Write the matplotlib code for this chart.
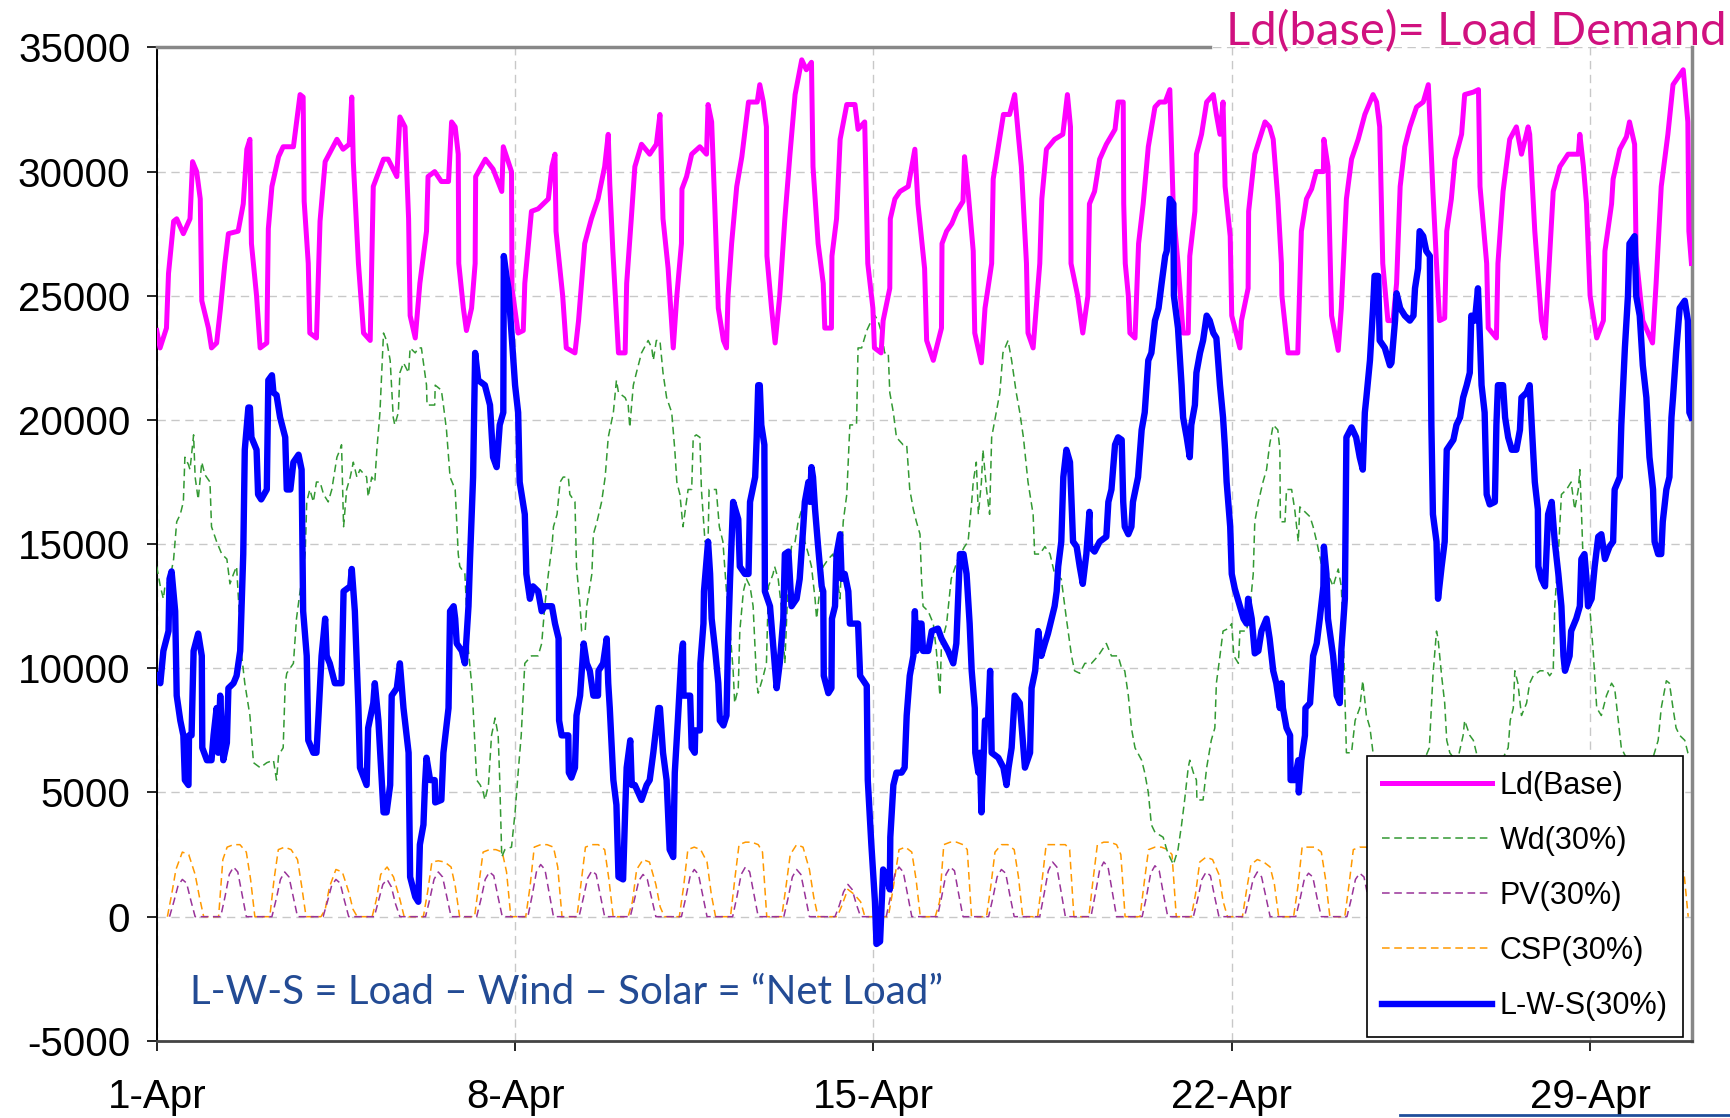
import numpy as np
import matplotlib
matplotlib.use("Agg")
import matplotlib.pyplot as plt
from matplotlib.lines import Line2D

# x = days since 1-Apr 00:00, y = MW
TICK_DAYS = [0, 7, 14, 21, 28]
TICK_LABELS = ["1-Apr", "8-Apr", "15-Apr", "22-Apr", "29-Apr"]
Y_TICKS = [-5000, 0, 5000, 10000, 15000, 20000, 25000, 30000, 35000]

LOAD_PTS = [
    (0.00, 23600), (0.065, 22900), (0.19, 23700), (0.23, 25900), (0.33, 28000), (0.39, 28100),
    (0.52, 27500), (0.65, 28100), (0.70, 30400), (0.78, 30000), (0.85, 28900), (0.88, 24800),
    (1.01, 23700), (1.07, 22900), (1.17, 23100), (1.24, 24400), (1.33, 26300), (1.40, 27500),
    (1.59, 27600), (1.69, 28700), (1.76, 30900), (1.82, 31300), (1.85, 27100), (1.95, 25000),
    (2.02, 22900), (2.15, 23100), (2.18, 27700), (2.25, 29400), (2.38, 30600), (2.47, 31000),
    (2.67, 31000), (2.80, 33100), (2.86, 33000), (2.88, 28800), (2.96, 26300), (2.99, 23500),
    (3.12, 23300), (3.19, 28000), (3.29, 30400), (3.52, 31300), (3.64, 30900), (3.76, 31100),
    (3.81, 33000), (3.84, 30400), (3.94, 26300), (4.04, 23500), (4.17, 23200), (4.23, 29400),
    (4.43, 30500), (4.52, 30500), (4.69, 29800), (4.75, 32200), (4.85, 31800), (4.92, 28100),
    (4.95, 24200), (5.05, 23300), (5.14, 25500), (5.27, 27600), (5.30, 29800), (5.43, 30000),
    (5.56, 29600), (5.70, 29600), (5.76, 32000), (5.83, 31800), (5.89, 30700), (5.90, 26300),
    (5.99, 24500), (6.05, 23600), (6.15, 24500), (6.22, 26300), (6.23, 29800), (6.42, 30500),
    (6.57, 30100), (6.74, 29200), (6.77, 31000), (6.93, 30000), (6.94, 25300), (7.06, 23500),
    (7.16, 23600), (7.19, 25500), (7.32, 28400), (7.45, 28500), (7.65, 28900), (7.72, 30200),
    (7.78, 30700), (7.80, 27600), (7.93, 25000), (8.00, 22900), (8.17, 22700), (8.24, 24000),
    (8.36, 27100), (8.49, 28100), (8.62, 28900), (8.75, 30200), (8.82, 31500), (8.85, 29500),
    (8.91, 26800), (9.02, 22700), (9.15, 22700), (9.18, 25500), (9.27, 28100), (9.34, 30200),
    (9.47, 31100), (9.63, 30700), (9.76, 31100), (9.83, 32300), (9.89, 28100), (9.99, 26100),
    (10.09, 22900), (10.16, 25000), (10.25, 27100), (10.26, 29300), (10.35, 29800), (10.45, 30700),
    (10.61, 31000), (10.74, 30700), (10.77, 32700), (10.84, 32000), (10.90, 28700), (10.97, 24500),
    (11.07, 23200), (11.13, 22900), (11.16, 25000), (11.23, 27100), (11.33, 29400), (11.43, 30600),
    (11.56, 32800), (11.73, 32800), (11.78, 33500), (11.85, 32800), (11.91, 31800), (11.92, 26600),
    (12.01, 24500), (12.08, 23100), (12.17, 25000), (12.27, 28100), (12.37, 30700), (12.47, 33100),
    (12.60, 34500), (12.69, 34100), (12.79, 34400), (12.82, 30200), (12.92, 27100), (13.02, 25500),
    (13.05, 23700), (13.18, 23700), (13.19, 26600), (13.28, 28100), (13.35, 31300), (13.48, 32700),
    (13.64, 32700), (13.70, 31700), (13.83, 32000), (13.89, 26300), (13.99, 24500), (14.02, 22900),
    (14.15, 22700), (14.19, 24000), (14.32, 25300), (14.33, 28100), (14.42, 28900), (14.52, 29200),
    (14.68, 29400), (14.81, 30900), (14.87, 28700), (15.00, 26100), (15.04, 23200), (15.17, 22400),
    (15.33, 23700), (15.34, 27100), (15.43, 27600), (15.53, 27900), (15.63, 28400), (15.75, 28800),
    (15.78, 30600), (15.85, 29200), (15.95, 26800), (15.98, 23500), (16.11, 22300), (16.18, 24500),
    (16.31, 26300), (16.34, 29700), (16.44, 31000), (16.54, 32300), (16.66, 32300), (16.76, 33100),
    (16.83, 31500), (16.89, 30200), (16.99, 26300), (17.02, 23500), (17.12, 22900), (17.18, 24500),
    (17.25, 26300), (17.29, 28900), (17.38, 30900), (17.54, 31300), (17.70, 31500), (17.79, 33100),
    (17.85, 31800), (17.86, 26300), (17.99, 25000), (18.09, 23500), (18.19, 25000), (18.22, 28700),
    (18.32, 29200), (18.42, 30500), (18.55, 31100), (18.72, 31700), (18.78, 32800), (18.88, 32800),
    (18.89, 28700), (18.92, 26300), (18.98, 25000), (19.01, 23500), (19.11, 23300), (19.18, 27100),
    (19.27, 28700), (19.37, 31000), (19.50, 32600), (19.59, 32800), (19.70, 32800), (19.79, 33300),
    (19.86, 28400), (19.95, 26300), (20.05, 23500), (20.15, 23500), (20.18, 26600), (20.28, 28400),
    (20.31, 30700), (20.41, 31500), (20.51, 32800), (20.64, 33100), (20.70, 32300), (20.77, 31500),
    (20.83, 32800), (20.87, 29400), (20.97, 27400), (21.00, 24200), (21.16, 22900), (21.19, 24000),
    (21.32, 25300), (21.33, 28400), (21.45, 30700), (21.65, 32000), (21.74, 31800), (21.81, 31300),
    (21.90, 28900), (21.97, 26300), (21.98, 25000), (22.10, 22700), (22.29, 22700), (22.33, 25500),
    (22.36, 27600), (22.46, 28900), (22.56, 29300), (22.65, 30000), (22.79, 30000), (22.80, 31300),
    (22.88, 30200), (22.92, 26800), (22.95, 24200), (23.08, 22800), (23.14, 24500), (23.21, 27600),
    (23.24, 28900), (23.34, 30500), (23.47, 31300), (23.60, 32300), (23.76, 33100), (23.83, 32800),
    (23.89, 31800), (23.95, 26300), (24.05, 24000), (24.15, 24000), (24.22, 25500), (24.29, 29400),
    (24.38, 31000), (24.48, 31800), (24.61, 32600), (24.74, 32800), (24.84, 33500), (24.93, 29200),
    (25.00, 26300), (25.06, 24000), (25.16, 24100), (25.20, 27600), (25.29, 28900), (25.36, 30500),
    (25.49, 31500), (25.55, 33100), (25.72, 33200), (25.82, 33300), (25.85, 29400), (25.98, 26300),
    (26.01, 23700), (26.17, 23300), (26.20, 26300), (26.30, 29200), (26.43, 31300), (26.56, 31800),
    (26.66, 30700), (26.79, 31800), (26.82, 31500), (26.92, 27600), (27.05, 24000), (27.12, 23300),
    (27.18, 25500), (27.28, 29200), (27.41, 30200), (27.57, 30700), (27.77, 30700), (27.80, 31500),
    (27.87, 30200), (27.93, 28700), (28.00, 25000), (28.13, 23300), (28.26, 24000), (28.29, 26800),
    (28.42, 28700), (28.45, 29700), (28.58, 30900), (28.71, 31400), (28.77, 32000), (28.87, 31100),
    (28.90, 26600), (29.03, 24000), (29.22, 23100), (29.29, 25500), (29.39, 29400), (29.52, 31500),
    (29.62, 33500), (29.82, 34100), (29.91, 32000), (29.93, 27600), (29.98, 26300),
]

WIND_PTS = [
    (0.00, 14100), (0.07, 13300), (0.13, 12800), (0.16, 13300), (0.26, 13600), (0.33, 14400),
    (0.39, 15900), (0.46, 16200), (0.52, 16700), (0.55, 18500), (0.62, 18200), (0.65, 18000),
    (0.72, 19400), (0.75, 17700), (0.81, 16800), (0.88, 18300), (0.94, 17800), (1.04, 17500),
    (1.07, 15700), (1.17, 15100), (1.27, 14600), (1.37, 14400), (1.43, 13400), (1.50, 13800),
    (1.56, 14100), (1.66, 10500), (1.72, 9400), (1.82, 8100), (1.89, 6200), (2.02, 6000),
    (2.15, 6200), (2.28, 6300), (2.34, 5500), (2.38, 6500), (2.47, 6800), (2.51, 9400),
    (2.54, 9800), (2.67, 10200), (2.73, 12000), (2.80, 13100), (2.90, 14600), (2.93, 16700),
    (2.99, 17200), (3.06, 16700), (3.12, 17500), (3.19, 17500), (3.26, 17000), (3.35, 16700),
    (3.42, 17200), (3.52, 18500), (3.58, 18800), (3.61, 19000), (3.65, 15700), (3.71, 17200),
    (3.78, 17700), (3.84, 18300), (3.91, 17700), (3.97, 18000), (4.10, 17700), (4.13, 16900),
    (4.20, 17700), (4.26, 17500), (4.30, 18800), (4.36, 20300), (4.43, 23500), (4.49, 23200),
    (4.56, 22400), (4.62, 20100), (4.65, 19800), (4.72, 20300), (4.75, 21900), (4.82, 22300),
    (4.92, 21900), (4.95, 22900), (5.05, 22700), (5.11, 22900), (5.17, 22900), (5.27, 21400),
    (5.28, 20600), (5.43, 20600), (5.44, 21400), (5.56, 21200), (5.60, 20600), (5.66, 19600),
    (5.73, 17700), (5.83, 17200), (5.89, 14600), (5.92, 14100), (6.02, 13800), (6.09, 10700),
    (6.15, 9400), (6.18, 8400), (6.25, 5500), (6.32, 5300), (6.38, 5000), (6.41, 4700),
    (6.48, 5300), (6.54, 7300), (6.61, 8000), (6.67, 7300), (6.70, 5500), (6.74, 2400),
    (6.80, 2700), (6.93, 2800), (7.00, 4200), (7.06, 5800), (7.12, 7300), (7.19, 10200),
    (7.32, 10500), (7.45, 10500), (7.52, 11000), (7.58, 12500), (7.65, 13800), (7.72, 14900),
    (7.75, 15700), (7.82, 16200), (7.88, 17500), (7.94, 17700), (8.04, 17700), (8.07, 17000),
    (8.17, 16700), (8.20, 14100), (8.27, 12500), (8.30, 11500), (8.37, 11500), (8.40, 12500),
    (8.50, 13800), (8.53, 15400), (8.60, 15900), (8.69, 16700), (8.76, 17700), (8.82, 19300),
    (8.92, 20300), (8.98, 21600), (9.02, 21100), (9.15, 20900), (9.21, 20600), (9.24, 19700),
    (9.31, 21400), (9.37, 21900), (9.47, 22700), (9.60, 23200), (9.67, 22900), (9.70, 22400),
    (9.76, 23200), (9.83, 23200), (9.89, 21900), (9.96, 20900), (10.06, 20300), (10.12, 18800),
    (10.16, 17500), (10.22, 17000), (10.28, 15700), (10.38, 17200), (10.45, 17200), (10.48, 19300),
    (10.54, 19400), (10.61, 19300), (10.64, 17200), (10.71, 15100), (10.77, 15100), (10.79, 17200),
    (10.93, 17200), (10.99, 15700), (11.06, 15100), (11.13, 13100), (11.20, 11500), (11.26, 9900),
    (11.29, 8600), (11.36, 9200), (11.39, 11500), (11.46, 13100), (11.52, 13600), (11.59, 13300),
    (11.65, 12500), (11.72, 9400), (11.75, 9000), (11.85, 9700), (11.91, 10200), (11.95, 13300),
    (12.04, 13800), (12.07, 14100), (12.14, 13600), (12.20, 12500), (12.27, 10200), (12.34, 13800),
    (12.40, 14900), (12.47, 15100), (12.53, 15900), (12.60, 16400), (12.66, 15100), (12.73, 14600),
    (12.79, 14100), (12.86, 12800), (12.89, 12000), (12.95, 13100), (13.02, 14100), (13.12, 14400),
    (13.21, 14600), (13.28, 13800), (13.35, 12800), (13.38, 14600), (13.41, 15900), (13.48, 17000),
    (13.54, 19800), (13.67, 19800), (13.70, 22900), (13.77, 22900), (13.87, 23600), (13.96, 24000),
    (14.03, 24200), (14.09, 24000), (14.16, 23500), (14.22, 22700), (14.29, 22700), (14.32, 21100),
    (14.39, 20300), (14.45, 19300), (14.58, 19000), (14.65, 19000), (14.71, 17200), (14.78, 16400),
    (14.84, 15900), (14.91, 15400), (14.94, 13600), (14.97, 12500), (15.07, 12300), (15.17, 11800),
    (15.23, 10700), (15.30, 8900), (15.33, 11000), (15.43, 11800), (15.52, 13600), (15.65, 14400),
    (15.78, 14900), (15.85, 15100), (15.92, 16700), (15.95, 17500), (16.01, 18300), (16.05, 16200),
    (16.11, 17500), (16.14, 18800), (16.21, 17200), (16.27, 16200), (16.31, 19300), (16.40, 20300),
    (16.47, 21100), (16.53, 22700), (16.63, 23200), (16.70, 22400), (16.79, 21100), (16.86, 20300),
    (16.93, 19300), (17.02, 17500), (17.12, 16200), (17.15, 14600), (17.25, 14600), (17.35, 14900),
    (17.45, 14600), (17.54, 13800), (17.67, 13600), (17.77, 12000), (17.87, 10500), (17.93, 9900),
    (18.03, 9800), (18.13, 10200), (18.26, 10200), (18.39, 10500), (18.55, 11000), (18.65, 10500),
    (18.78, 10500), (18.85, 10000), (18.91, 9900), (18.98, 8900), (19.04, 7600), (19.11, 6800),
    (19.24, 6300), (19.30, 5800), (19.37, 5000), (19.43, 3700), (19.50, 3400), (19.66, 3200),
    (19.73, 2700), (19.79, 2400), (19.86, 2100), (19.95, 2700), (20.02, 3700), (20.08, 4700),
    (20.15, 6000), (20.18, 6300), (20.25, 5800), (20.31, 5500), (20.32, 4700), (20.44, 4700),
    (20.51, 6000), (20.60, 7100), (20.67, 7600), (20.70, 9400), (20.77, 10500), (20.83, 11500),
    (20.93, 11600), (21.00, 11800), (21.04, 10500), (21.13, 10200), (21.16, 11500), (21.29, 11500),
    (21.35, 12300), (21.42, 13800), (21.45, 15900), (21.52, 16700), (21.61, 17500), (21.68, 18000),
    (21.74, 19000), (21.81, 19800), (21.90, 19600), (21.94, 18800), (21.95, 15900), (22.04, 15900),
    (22.07, 17200), (22.17, 17200), (22.23, 16400), (22.30, 15100), (22.33, 16500), (22.43, 16300),
    (22.53, 16100), (22.59, 15700), (22.66, 15100), (22.79, 13800), (22.92, 13600), (22.98, 13300),
    (23.08, 14000), (23.14, 13300), (23.18, 11200), (23.24, 6600), (23.34, 6600), (23.41, 7900),
    (23.50, 8400), (23.56, 9500), (23.63, 8100), (23.70, 7600), (23.76, 6600), (23.90, 5800),
    (24.10, 5500), (24.30, 5200), (24.50, 5600), (24.70, 6000), (24.86, 6800), (24.93, 9700),
    (25.00, 11500), (25.03, 11200), (25.10, 9700), (25.16, 8600), (25.20, 7100), (25.26, 6600),
    (25.40, 6200), (25.52, 7300), (25.55, 7900), (25.65, 7300), (25.72, 7100), (25.85, 6000),
    (26.00, 5500), (26.20, 6000), (26.40, 6800), (26.44, 7900), (26.50, 8400), (26.53, 9900),
    (26.59, 9400), (26.66, 8100), (26.76, 8600), (26.82, 9400), (26.89, 9700), (27.02, 9900),
    (27.15, 9900), (27.21, 9700), (27.28, 9900), (27.31, 12500), (27.38, 14600), (27.44, 17000),
    (27.54, 17200), (27.63, 17500), (27.70, 16400), (27.77, 17200), (27.80, 18000), (27.83, 16400),
    (27.86, 14600), (27.93, 12500), (28.00, 12300), (28.06, 10700), (28.13, 8400), (28.22, 8100),
    (28.32, 8900), (28.42, 9400), (28.48, 9200), (28.55, 7900), (28.61, 6800), (28.80, 6000),
    (29.00, 5500), (29.20, 6200), (29.33, 7100), (29.39, 8400), (29.49, 9500), (29.55, 9400),
    (29.62, 8400), (29.68, 7600), (29.75, 7300), (29.85, 7100), (29.91, 6600), (29.98, 6500),
]

NET_PTS = [
    (0.00, 9700), (0.07, 9400), (0.13, 10700), (0.23, 11500), (0.25, 13600), (0.29, 13900),
    (0.36, 12300), (0.39, 8900), (0.46, 7900), (0.52, 7300), (0.55, 5500), (0.62, 5300),
    (0.63, 7300), (0.68, 7300), (0.72, 10700), (0.81, 11400), (0.88, 10500), (0.89, 6800),
    (0.98, 6300), (1.07, 6300), (1.11, 7300), (1.17, 8400), (1.20, 6600), (1.24, 8900),
    (1.30, 6300), (1.37, 7000), (1.40, 9200), (1.50, 9400), (1.56, 9700), (1.63, 10700),
    (1.69, 14600), (1.72, 18800), (1.79, 20500), (1.82, 20500), (1.85, 19300), (1.95, 18800),
    (1.98, 17000), (2.04, 16800), (2.15, 17200), (2.18, 21600), (2.25, 21800), (2.28, 21100),
    (2.34, 21000), (2.41, 20100), (2.51, 19300), (2.54, 17200), (2.61, 17200), (2.67, 18300),
    (2.77, 18600), (2.83, 18000), (2.86, 12300), (2.93, 10500), (2.96, 7100), (3.06, 6600),
    (3.12, 6600), (3.16, 8100), (3.22, 10500), (3.29, 12000), (3.32, 10500), (3.38, 10200),
    (3.48, 9400), (3.61, 9400), (3.65, 13100), (3.78, 13300), (3.81, 14000), (3.87, 12300),
    (3.94, 8400), (3.97, 6000), (4.10, 5300), (4.13, 7600), (4.23, 8600), (4.26, 9400),
    (4.33, 7900), (4.43, 4200), (4.49, 4200), (4.56, 5300), (4.59, 8900), (4.69, 9200),
    (4.75, 10200), (4.82, 8400), (4.92, 6600), (4.95, 1600), (5.05, 800), (5.11, 600),
    (5.14, 2900), (5.21, 3700), (5.24, 5300), (5.27, 6400), (5.34, 5500), (5.43, 5500),
    (5.44, 4600), (5.56, 4700), (5.60, 6600), (5.70, 8400), (5.73, 12300), (5.80, 12500),
    (5.83, 12000), (5.86, 11000), (5.96, 10700), (6.02, 10200), (6.09, 12500), (6.12, 14400),
    (6.18, 17700), (6.22, 22700), (6.28, 21600), (6.41, 21400), (6.51, 20600), (6.57, 18500),
    (6.64, 18100), (6.70, 19800), (6.77, 20300), (6.78, 26600), (6.83, 25800), (6.87, 25300),
    (6.93, 23500), (7.00, 21400), (7.06, 20300), (7.09, 17500), (7.19, 16200), (7.22, 13800),
    (7.29, 12800), (7.35, 13300), (7.45, 13100), (7.52, 12300), (7.58, 12500), (7.72, 12500),
    (7.78, 11800), (7.85, 11200), (7.86, 7900), (7.91, 7300), (8.04, 7300), (8.05, 5800),
    (8.10, 5600), (8.17, 6000), (8.20, 8100), (8.27, 8900), (8.34, 11000), (8.40, 10200),
    (8.46, 9900), (8.53, 8900), (8.62, 8900), (8.63, 9900), (8.72, 10200), (8.79, 11200),
    (8.82, 9400), (8.85, 8400), (8.92, 5500), (8.98, 4500), (9.02, 1600), (9.11, 1500),
    (9.15, 4200), (9.18, 6000), (9.25, 7100), (9.28, 5300), (9.34, 5300), (9.47, 4700),
    (9.57, 5300), (9.63, 5500), (9.70, 6600), (9.80, 8400), (9.83, 8400), (9.89, 6600),
    (9.96, 5500), (10.02, 2700), (10.09, 2400), (10.12, 5800), (10.18, 7900), (10.22, 9400),
    (10.25, 10500), (10.28, 11000), (10.29, 8900), (10.42, 8900), (10.45, 6800), (10.51, 6600),
    (10.52, 7500), (10.61, 7500), (10.62, 10200), (10.68, 11800), (10.69, 13100), (10.77, 15100),
    (10.81, 13800), (10.84, 12000), (10.91, 10700), (10.97, 9400), (11.00, 7900), (11.07, 7700),
    (11.13, 8100), (11.16, 11000), (11.20, 13600), (11.26, 16700), (11.36, 16000), (11.39, 14100),
    (11.49, 13800), (11.56, 13800), (11.59, 16700), (11.69, 17700), (11.72, 19300), (11.75, 21400),
    (11.78, 21400), (11.81, 19800), (11.87, 19000), (11.88, 13100), (11.98, 12500), (12.04, 11000),
    (12.11, 9200), (12.17, 10200), (12.24, 12000), (12.27, 14600), (12.34, 14700), (12.40, 12500),
    (12.50, 12800), (12.56, 13600), (12.63, 15700), (12.66, 16700), (12.73, 17500), (12.76, 16700),
    (12.79, 18100), (12.82, 17700), (12.86, 16400), (12.92, 14900), (12.99, 13300), (13.02, 13100),
    (13.03, 9700), (13.12, 9000), (13.18, 9200), (13.19, 12000), (13.25, 12500), (13.28, 14600),
    (13.35, 15400), (13.38, 13600), (13.44, 13800), (13.51, 13100), (13.54, 11800), (13.70, 11800),
    (13.74, 9700), (13.87, 9300), (13.89, 5500), (13.96, 2900), (14.03, 600), (14.06, -1100),
    (14.13, -1000), (14.19, 1900), (14.26, 1600), (14.32, 1100), (14.33, 3200), (14.39, 5300),
    (14.45, 5800), (14.55, 5800), (14.61, 6000), (14.65, 8100), (14.71, 9700), (14.78, 10500),
    (14.81, 12300), (14.84, 10700), (14.87, 11800), (14.94, 11800), (14.97, 10700), (15.07, 10700),
    (15.14, 11500), (15.26, 11600), (15.33, 11200), (15.46, 10700), (15.56, 10200), (15.62, 11000),
    (15.69, 14600), (15.76, 14600), (15.82, 13800), (15.88, 11800), (15.92, 9900), (15.98, 8400),
    (15.99, 6600), (16.05, 5800), (16.08, 6600), (16.11, 4200), (16.18, 7900), (16.24, 7900),
    (16.28, 9900), (16.31, 6600), (16.44, 6400), (16.54, 6000), (16.60, 5300), (16.64, 6000),
    (16.70, 6800), (16.76, 8900), (16.86, 8600), (16.93, 6800), (16.96, 6000), (17.06, 6600),
    (17.09, 9200), (17.16, 9900), (17.22, 11500), (17.28, 10500), (17.35, 11000), (17.41, 11400),
    (17.48, 12000), (17.54, 12500), (17.58, 13100), (17.61, 14100), (17.67, 15100), (17.71, 17700),
    (17.77, 18800), (17.84, 18300), (17.90, 15100), (17.97, 14900), (18.03, 14100), (18.09, 13400),
    (18.16, 14600), (18.22, 16300), (18.23, 14900), (18.32, 14700), (18.42, 15100), (18.55, 15300),
    (18.59, 16700), (18.65, 17200), (18.72, 19000), (18.78, 19300), (18.85, 19200), (18.88, 16700),
    (18.91, 15700), (18.98, 15400), (19.04, 15700), (19.07, 16700), (19.17, 17700), (19.24, 19600),
    (19.30, 20300), (19.37, 22400), (19.43, 22700), (19.50, 24000), (19.57, 24500), (19.63, 25500),
    (19.70, 26600), (19.73, 26800), (19.79, 28900), (19.86, 28700), (19.87, 25000), (19.95, 23700),
    (20.02, 21400), (20.05, 20100), (20.12, 19300), (20.18, 18500), (20.21, 19800), (20.28, 20600),
    (20.31, 21900), (20.38, 22700), (20.44, 23200), (20.51, 24200), (20.57, 24000), (20.64, 23500),
    (20.70, 23300), (20.77, 21400), (20.83, 20100), (20.87, 18800), (20.90, 17500), (20.97, 15700),
    (21.00, 13800), (21.06, 13200), (21.16, 12500), (21.23, 12000), (21.29, 11800), (21.32, 12800),
    (21.39, 12000), (21.45, 10600), (21.52, 10700), (21.58, 11500), (21.68, 12000), (21.74, 11200),
    (21.81, 9900), (21.87, 9400), (21.94, 8400), (21.97, 9400), (22.00, 8400), (22.07, 7600),
    (22.14, 7300), (22.15, 5500), (22.23, 5500), (22.30, 6300), (22.31, 5000), (22.36, 6300),
    (22.43, 7300), (22.44, 8400), (22.53, 8600), (22.59, 10500), (22.66, 11000), (22.72, 12000),
    (22.79, 13300), (22.80, 14900), (22.85, 13800), (22.88, 12000), (22.98, 10500), (23.05, 8900),
    (23.11, 8600), (23.14, 10700), (23.21, 12800), (23.24, 19300), (23.34, 19700), (23.43, 19300),
    (23.50, 18500), (23.56, 18000), (23.60, 20300), (23.63, 20900), (23.70, 22400), (23.76, 24500),
    (23.79, 25800), (23.86, 25800), (23.89, 23200), (23.99, 22900), (24.09, 22200), (24.12, 22300),
    (24.19, 24000), (24.22, 25100), (24.29, 24500), (24.38, 24200), (24.48, 24000), (24.55, 24200),
    (24.58, 25300), (24.64, 26100), (24.67, 27600), (24.74, 27400), (24.80, 26800), (24.87, 26600),
    (24.90, 19800), (24.93, 16200), (25.00, 15100), (25.03, 12800), (25.10, 14100), (25.16, 15100),
    (25.20, 18800), (25.33, 19200), (25.39, 19800), (25.46, 20100), (25.52, 20900), (25.59, 21400),
    (25.65, 21900), (25.68, 24200), (25.75, 24000), (25.81, 25300), (25.85, 23200), (25.88, 21400),
    (25.94, 20300), (25.98, 17000), (26.04, 16600), (26.14, 16700), (26.17, 19800), (26.20, 21400),
    (26.30, 21400), (26.34, 20100), (26.40, 19300), (26.47, 18800), (26.56, 18800), (26.63, 19600),
    (26.66, 20900), (26.76, 21100), (26.82, 21400), (26.86, 19800), (26.92, 17500), (26.98, 16400),
    (26.99, 14100), (27.05, 13600), (27.12, 13300), (27.18, 16200), (27.25, 16700), (27.31, 15100),
    (27.38, 13800), (27.44, 12500), (27.48, 10500), (27.51, 9900), (27.60, 10500), (27.63, 11500),
    (27.73, 12000), (27.80, 12500), (27.83, 14400), (27.89, 14600), (27.93, 13600), (27.96, 12500),
    (28.03, 12800), (28.09, 14100), (28.16, 15300), (28.22, 15400), (28.29, 14400), (28.38, 14900),
    (28.45, 15100), (28.48, 17200), (28.58, 17700), (28.61, 19800), (28.68, 22900), (28.74, 25000),
    (28.77, 27100), (28.87, 27400), (28.90, 25000), (28.97, 24200), (29.03, 22200), (29.10, 20900),
    (29.16, 18500), (29.23, 17200), (29.26, 15100), (29.33, 14600), (29.39, 14600), (29.42, 15900),
    (29.49, 17200), (29.55, 17700), (29.59, 20100), (29.62, 20900), (29.68, 22700), (29.75, 24500),
    (29.85, 24800), (29.91, 24000), (29.94, 20300), (29.98, 20100),
]

# solar output, one row per day, sampled at these hours of the day
PV_HOURS = [6, 8, 10, 12, 14, 16, 18]
PV_DAILY = [
    [0, 600, 1250, 1500, 1350, 650, 0], [0, 800, 1700, 2000, 1800, 900, 0],
    [0, 700, 1500, 1800, 1600, 800, 0], [0, 600, 1250, 1500, 1350, 650, 0],
    [0, 650, 1300, 1500, 1200, 500, 0], [0, 700, 1500, 1800, 1600, 800, 0],
    [0, 700, 1500, 1800, 1650, 800, 0], [0, 850, 1800, 2100, 1900, 950, 0],
    [0, 750, 1550, 1850, 1700, 850, 0], [0, 700, 1450, 1700, 1500, 750, 0],
    [0, 750, 1600, 1900, 1700, 850, 0], [0, 800, 1700, 2000, 1800, 900, 0],
    [0, 750, 1600, 1900, 1700, 850, 0], [0, 450, 1000, 1300, 1100, 500, 0],
    [0, 800, 1700, 2000, 1800, 900, 0], [0, 800, 1700, 2000, 1850, 900, 0],
    [0, 750, 1600, 1900, 1750, 850, 0], [0, 900, 1850, 2200, 2000, 1000, 0],
    [0, 900, 1850, 2200, 2000, 1000, 0], [0, 800, 1750, 2050, 1850, 900, 0],
    [0, 700, 1500, 1800, 1650, 800, 0], [0, 700, 1500, 1800, 1600, 800, 0],
    [0, 700, 1500, 1750, 1600, 750, 0], [0, 700, 1500, 1750, 1600, 750, 0],
    [0, 700, 1500, 1800, 1650, 800, 0], [0, 750, 1600, 1900, 1700, 850, 0],
    [0, 650, 1450, 1700, 1550, 750, 0], [0, 750, 1600, 1900, 1700, 850, 0],
    [0, 700, 1500, 1800, 1650, 800, 0], [0, 650, 1450, 1700, 1550, 750, 0],
]

CSP_HOURS = [5, 7, 9, 12, 15, 18, 20, 22]
CSP_DAILY = [
    [0, 900, 1900, 2600, 2500, 1700, 800, 0], [0, 2300, 2800, 2900, 2900, 2600, 1500, 0],
    [0, 1500, 2700, 2800, 2700, 2300, 1200, 0], [0, 300, 1200, 1900, 1800, 1000, 300, 0],
    [0, 700, 1700, 2000, 1600, 700, 0, 0], [0, 1000, 2200, 2250, 2200, 2000, 1200, 0],
    [0, 1300, 2600, 2700, 2700, 2600, 1800, 0], [0, 1200, 2800, 2900, 2900, 2800, 2000, 0],
    [0, 1400, 2800, 2900, 2900, 2700, 1500, 0], [0, 600, 1900, 2300, 2200, 1300, 400, 0],
    [0, 1200, 2700, 2800, 2700, 2200, 900, 0], [0, 1500, 2900, 3000, 3000, 2900, 2600, 0],
    [0, 1200, 2500, 2900, 2800, 1900, 800, 0], [0, 0, 400, 1100, 900, 600, 0, 0],
    [0, 0, 1000, 2700, 2800, 2600, 1500, 0], [0, 600, 2900, 3000, 3000, 2900, 2700, 0],
    [0, 1200, 2600, 2900, 2900, 2700, 1600, 0], [0, 1400, 2900, 2900, 2900, 2900, 2700, 0],
    [0, 1500, 2900, 3000, 3000, 2900, 2500, 0], [0, 1400, 2700, 2800, 2800, 2700, 2500, 0],
    [0, 900, 2200, 2400, 2300, 1700, 600, 0], [0, 1100, 2100, 2300, 2200, 2000, 1300, 0],
    [0, 1200, 2800, 2800, 2800, 2600, 1500, 0], [0, 1300, 2700, 2800, 2800, 2600, 1600, 0],
    [0, 1000, 2400, 2600, 2600, 2300, 1200, 0], [0, 1200, 2600, 2800, 2800, 2500, 1400, 0],
    [0, 1000, 2400, 2700, 2600, 2200, 1100, 0], [0, 1300, 2700, 2900, 2900, 2600, 1500, 0],
    [0, 1000, 2200, 2400, 2400, 2100, 1100, 0], [0, 900, 1900, 2100, 2100, 2000, 1800, 0],
]


def daily_to_series(hours, daily):
    t, v = [], []
    for day, row in enumerate(daily):
        for h, val in zip(hours, row):
            t.append(day + h / 24.0)
            v.append(val)
    return np.array(t), np.array(v)


def main():
    ld_t, ld_v = np.array(LOAD_PTS).T
    wd_t, wd_v = np.array(WIND_PTS).T
    net_t, net_v = np.array(NET_PTS).T
    pv_t, pv_v = daily_to_series(PV_HOURS, PV_DAILY)
    csp_t, csp_v = daily_to_series(CSP_HOURS, CSP_DAILY)

    fig = plt.figure(figsize=(17.3, 11.18), dpi=100)
    ax = fig.add_axes([0.0906, 0.0690, 0.8877, 0.8886])

    dash = (0, (5, 3))
    ax.plot(csp_t, csp_v, color="#ff9900", lw=1.1, ls=dash, label="CSP(30%)", zorder=3)
    ax.plot(pv_t, pv_v, color="#993399", lw=1.1, ls=dash, label="PV(30%)", zorder=3)
    ax.plot(wd_t, wd_v, color="#339933", lw=1.1, ls=dash, label="Wd(30%)", zorder=3)
    ax.plot(ld_t, ld_v, color="#ff00ff", lw=3.6, label="Ld(Base)", zorder=4)
    ax.plot(net_t, net_v, color="#0000ff", lw=4.6, label="L-W-S(30%)", zorder=5)

    ax.set_xlim(0, 30)
    ax.set_ylim(-5000, 35000)
    ax.set_yticks(Y_TICKS)
    ax.set_yticklabels([str(v) for v in Y_TICKS])
    ax.set_xticks(TICK_DAYS)
    ax.set_xticklabels(TICK_LABELS)

    ax.grid(True, color="#c8c8c8", lw=1.0, ls=(0, (6, 4)))
    ax.set_axisbelow(True)

    for lab in ax.get_xticklabels() + ax.get_yticklabels():
        lab.set_fontfamily("Liberation Sans")
        lab.set_fontsize(29)
    ax.tick_params(axis="y", direction="out", length=7, width=1.2, pad=12)
    ax.tick_params(axis="x", direction="out", length=7, width=1.2, pad=20)

    ax.spines["left"].set_color("black")
    ax.spines["left"].set_linewidth(1.4)
    ax.spines["bottom"].set_color("#444444")
    ax.spines["bottom"].set_linewidth(2.0)
    ax.spines["top"].set_color("#888888")
    ax.spines["top"].set_linewidth(2.5)
    ax.spines["top"].set_bounds(0, 20.58)
    ax.spines["right"].set_color("#888888")
    ax.spines["right"].set_linewidth(2.5)

    handles, labels = ax.get_legend_handles_labels()
    order = [3, 2, 1, 0, 4]
    leg = ax.legend([handles[i] for i in order], [labels[i] for i in order],
                    loc="upper right", bbox_to_anchor=(0.994, 0.287), borderaxespad=0,
                    prop={"family": "Liberation Sans", "size": 22},
                    handlelength=3.6, handletextpad=0.25, labelspacing=0.82,
                    borderpad=0.5, fancybox=False, framealpha=1.0, edgecolor="black")
    leg.get_frame().set_linewidth(1.2)
    leg.set_zorder(10)

    ax.text(0.65, -3060, "L-W-S = Load \u2013 Wind \u2013 Solar = \u201cNet Load\u201d",
            color="#234b94", fontsize=29, family="Lato", ha="left", va="center")

    fig.text(0.998, 0.972, "Ld(base)= Load Demand", color="#d0117f", fontsize=34,
             family="Lato", ha="right", va="center")

    # stray slide rule at the bottom right
    fig.add_artist(Line2D([0.809, 1.0], [0.003, 0.003], color="#1f4e9a", lw=2))

    fig.savefig("out.png", dpi=100)
    plt.close(fig)


if __name__ == "__main__":
    main()
